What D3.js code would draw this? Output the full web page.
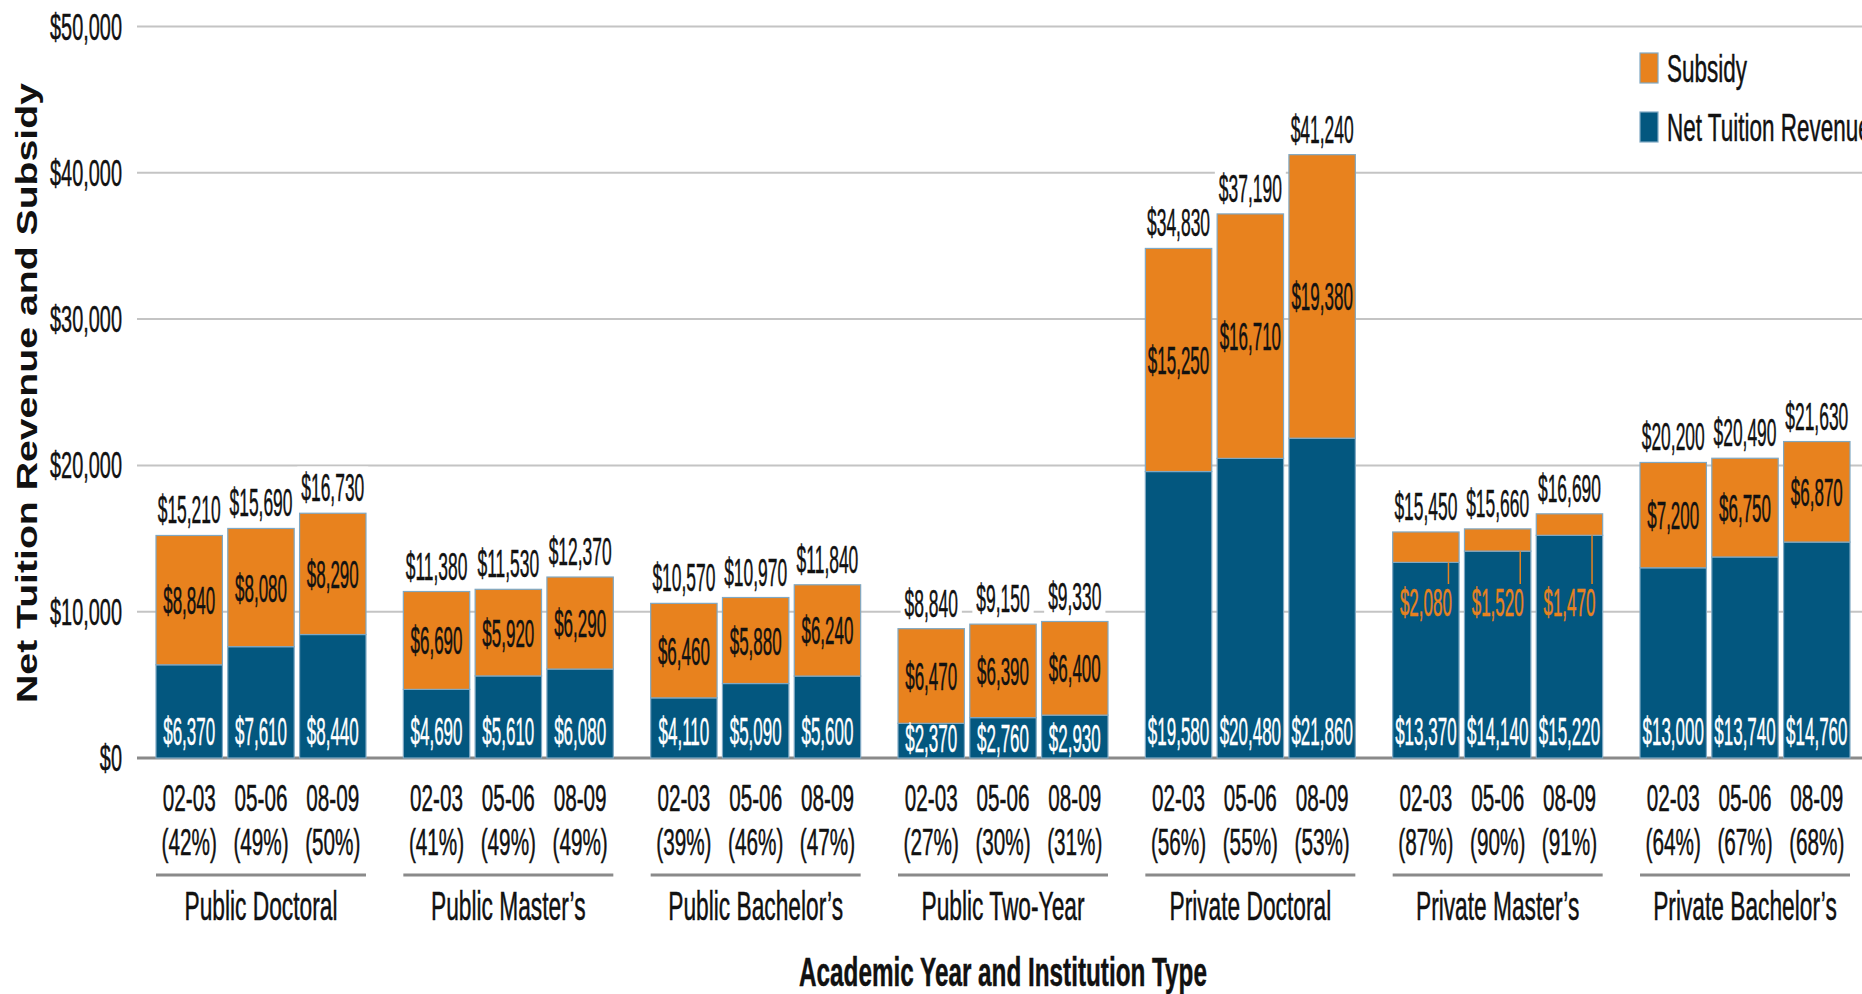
<!DOCTYPE html>
<html><head><meta charset="utf-8">
<script src="https://cdn.jsdelivr.net/npm/d3@7"></script>
<style>body{margin:0;background:#fff;} svg{display:block}</style>
</head><body><svg id="chart" width="1862" height="994"></svg>
<script>
const groups = ["Public Doctoral","Public Master’s","Public Bachelor’s","Public Two-Year","Private Doctoral","Private Master’s","Private Bachelor’s"];
const years = ["02-03","05-06","08-09"];
const netTuition = [[6370,7610,8440],[4690,5610,6080],[4110,5090,5600],[2370,2760,2930],[19580,20480,21860],[13370,14140,15220],[13000,13740,14760]];
const subsidy = [[8840,8080,8290],[6690,5920,6290],[6460,5880,6240],[6470,6390,6400],[15250,16710,19380],[2080,1520,1470],[7200,6750,6870]];
const totals = [[15210,15690,16730],[11380,11530,12370],[10570,10970,11840],[8840,9150,9330],[34830,37190,41240],[15450,15660,16690],[20200,20490,21630]];
const tuitionShare = [[42,49,50],[41,49,49],[39,46,47],[27,30,31],[56,55,53],[87,90,91],[64,67,68]];
const yTicks = [0,10000,20000,30000,40000,50000];
const seriesNames = ["Subsidy","Net Tuition Revenue"];
const colors = {Subsidy:"#e8821e", "Net Tuition Revenue":"#03577f"};

const svg = d3.select("#chart");
const FAM = "'Liberation Sans Narrow','Liberation Sans',Arial,sans-serif";
const FAMW = "'Liberation Sans',Arial,sans-serif";

function measure(str, size, weight, fam){
  const t = svg.append("text").attr("font-family",fam||FAM).attr("font-size",size).attr("font-weight",weight||"normal").text(str);
  const w = t.node().getComputedTextLength(); t.remove(); return w;
}
function style(sample, target, size, weight){
  return {size, weight: weight||"normal", sx: target/measure(sample,size,weight)};
}
const ST = {
  tick: style("$50,000",72,37),
  total: style("$15,210",63,38),
  inner: style("$6,370",52,38),
  cat: style("02-03",53,37),
  group: style("Public Doctoral",153,40),
  xtitle: style("Academic Year and Institution Type",408,41,"bold"),
  legend: style("Subsidy",80,38)
};
function cText(parent, x, y, str, st, anchor, fill){
  const c = fill||"#111";
  return parent.append("text")
    .attr("transform",`translate(${x},${y}) scale(${st.sx},1)`)
    .attr("text-anchor",anchor||"middle")
    .attr("font-family",FAM).attr("font-size",st.size).attr("font-weight",st.weight)
    .attr("fill",c).attr("stroke",c).attr("stroke-width",0.5).text(str);
}

const x0 = d3.scaleBand().domain(groups).range([156,1850]).paddingInner(0.151).paddingOuter(0);
const x1 = d3.scaleBand().domain(years).range([0,x0.bandwidth()]).paddingInner(0.075);
const y = d3.scaleLinear().domain([0,50000]).range([758,26.5]);
const fmt = d3.format("$,");

const grid = svg.append("g");
yTicks.forEach(t=>{
  grid.append("line").attr("x1",137).attr("x2",1862).attr("y1",y(t)).attr("y2",y(t))
    .attr("stroke", t===0 ? "#8a8a8a" : "#c4c4c4").attr("stroke-width", t===0 ? 3 : 2);
  cText(svg, 122, y(t)+13, fmt(t), ST.tick, "end");
});

const bars = svg.append("g");
const labels = svg.append("g");
groups.forEach((g,gi)=>{
  years.forEach((yr,yi)=>{
    const bx = x0(g)+x1(yr), bw = x1.bandwidth();
    const ntr = netTuition[gi][yi], sub = subsidy[gi][yi], tot = totals[gi][yi];
    bars.append("rect").attr("x",bx).attr("width",bw).attr("y",y(ntr)).attr("height",y(0)-y(ntr))
      .attr("fill",colors["Net Tuition Revenue"]).attr("stroke","#7fa8c3").attr("stroke-width",1.2);
    bars.append("rect").attr("x",bx).attr("width",bw).attr("y",y(ntr+sub)).attr("height",y(ntr)-y(ntr+sub))
      .attr("fill",colors.Subsidy).attr("stroke","#7fa8c3").attr("stroke-width",1.2);
    const cx = bx+bw/2;
    const tt = cText(labels, cx, y(ntr+sub)-12, fmt(tot), ST.total, "middle", "#111");
    const bb = tt.node().getBBox();
    const w = bb.width*ST.total.sx;
    labels.insert("rect", () => tt.node()).attr("x",cx-w/2-4).attr("y",y(ntr+sub)-12+bb.y).attr("width",w+8).attr("height",bb.height).attr("fill","#fff");
    const segH = y(ntr)-y(ntr+sub);
    if (segH > 40) {
      cText(labels, cx, (y(ntr)+y(ntr+sub))/2+14, fmt(sub), ST.inner, "middle", "#111");
    } else {
      const lx = bx + bw*0.84;
      labels.append("line").attr("x1",lx).attr("x2",lx).attr("y1",y(ntr)).attr("y2",584)
        .attr("stroke",colors.Subsidy).attr("stroke-width",1.5);
      cText(labels, cx, 616, fmt(sub), ST.inner, "middle", colors.Subsidy);
    }
    const nH = y(0)-y(ntr);
    cText(labels, cx, nH < 50 ? 752 : 745, fmt(ntr), ST.inner, "middle", "#fff");
    cText(svg, cx, 811, yr, ST.cat, "middle");
    cText(svg, cx, 855, `(${tuitionShare[gi][yi]}%)`, ST.cat, "middle");
  });
  svg.append("line").attr("x1",x0(g)).attr("x2",x0(g)+x0.bandwidth()).attr("y1",875).attr("y2",875)
    .attr("stroke","#8a8a8a").attr("stroke-width",3);
  cText(svg, x0(g)+x0.bandwidth()/2, 920, g, ST.group, "middle");
});

cText(svg, 1003, 986, "Academic Year and Institution Type", ST.xtitle, "middle");
const ytSize = 39;
const ytLen = measure("Net Tuition Revenue and Subsidy", ytSize, "bold", FAMW);
svg.append("text")
  .attr("transform",`translate(37,393) scale(0.78,1) rotate(-90) scale(${620/ytLen},1)`)
  .attr("text-anchor","middle").attr("font-family",FAMW).attr("font-weight","bold").attr("font-size",ytSize)
  .attr("fill","#111").text("Net Tuition Revenue and Subsidy");

seriesNames.forEach((s,i)=>{
  const ly = 53 + i*59;
  svg.append("rect").attr("x",1640).attr("y",ly).attr("width",18).attr("height",30)
    .attr("fill",colors[s]).attr("stroke","#7fa8c3").attr("stroke-width",1.2);
  cText(svg, 1667, ly+29, s, ST.legend, "start");
});
</script></body></html>
